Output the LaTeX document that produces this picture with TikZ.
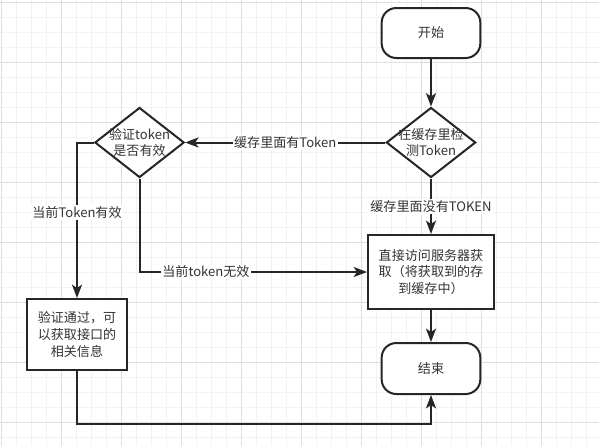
\documentclass[tikz,border=0pt]{standalone}
\usepackage{fontspec}
\setmainfont{Noto Sans CJK SC}
\usetikzlibrary{arrows.meta, shapes.geometric}

\begin{document}
\begin{tikzpicture}[
		x=0.75pt, y=-0.75pt,
		font=\fontsize{9.8}{12.6}\selectfont,
		minorgrid/.style={gray!10, line width=0.5pt},
		majorgrid/.style={gray!25, line width=0.6pt},
		terminal/.style={draw=black!85, line width=1.5pt, rounded corners=11pt, fill=white, text=black!80, minimum width=74pt, minimum height=37.5pt, inner sep=0pt},
		decision/.style={diamond, draw=black!85, line width=1.5pt, fill=white, text=black!80, minimum width=67pt, minimum height=52.5pt, inner sep=0pt},
		process/.style={rectangle, draw=black!85, line width=1.5pt, fill=white, text=black!80, align=center, inner sep=0pt},
		flow/.style={-{Stealth[length=10pt, width=7.5pt, inset=2.5pt]}, black!85, line width=1.5pt},
		tag/.style={fill=white, text=black!80, inner sep=1pt}
		]
		
		% Background and grid
		\useasboundingbox (0,0) rectangle (599,446);
		\fill[white] (0,0) rectangle (599,446);
		\foreach \x in {1,16,...,599} {
			\draw[minorgrid] (\x,0) -- (\x,446);
		}
		\foreach \y in {2,17,...,446} {
			\draw[minorgrid] (0,\y) -- (599,\y);
		}
		\foreach \x in {1,61,...,599} {
			\draw[majorgrid] (\x,0) -- (\x,446);
		}
		\foreach \y in {2,62,...,446} {
			\draw[majorgrid] (0,\y) -- (599,\y);
		}
		
		% Shapes
		\node[terminal] (start) at (431,33) {开始};
		\node[decision, label={[align=center, text=black!80]center:在缓存里检\\测Token}] (check) at (431,142.5) {};
		\node[decision, label={[align=center, text=black!80]center:验证token\\是否有效}] (verify) at (139.5,142.5) {};
		\node[process, minimum width=94.5pt, minimum height=55.5pt] (fetch) at (431,272) {直接访问服务器获\\取（将获取到的存\\到缓存中）};
		\node[process, minimum width=75pt, minimum height=53.25pt] (valid) at (77,334.5) {验证通过，可\\以获取接口的\\相关信息};
		\node[terminal, minimum height=38.25pt] (finish) at (431,368.5) {结束};
		\coordinate (low) at (431,424);
		
		% Connectors
		\draw[flow] (start) -- (check);
		\draw[flow] (check.west) -- node[tag] (hastok) {缓存里面有Token} (verify.east);
		\draw[flow] (check.south) -- node[tag] (notok) {缓存里面没有TOKEN} (fetch.north);
		\draw[flow] (verify.west) -| node[tag, pos=0.725] (isvalid) {当前Token有效} (valid.north);
		\draw[flow] (verify.south) |- node[tag, pos=0.646] (invalid) {当前token无效} (fetch.west);
		\draw[flow] (fetch) -- (finish);
		\draw[flow] (valid.south) |- (low) -- (finish.south);
		
	\end{tikzpicture}
\end{document}
